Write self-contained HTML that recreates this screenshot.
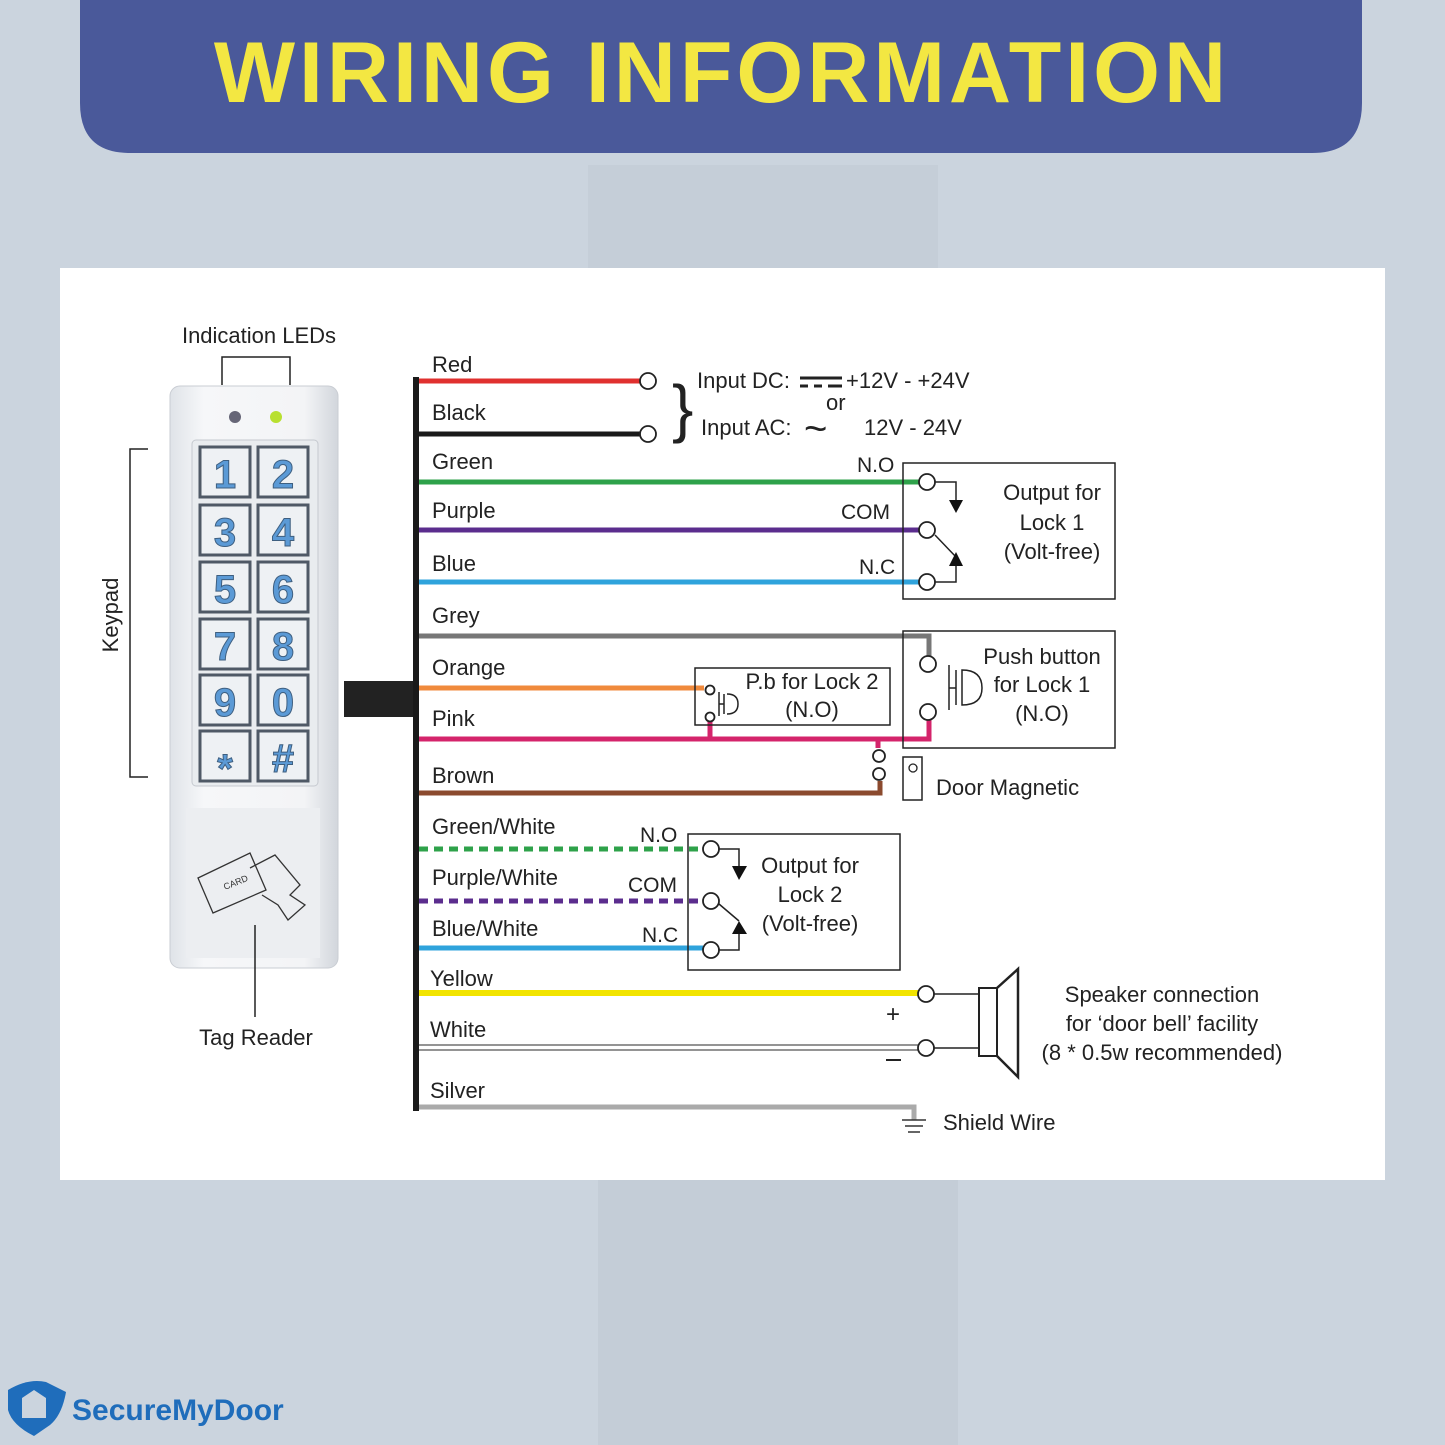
<!DOCTYPE html>
<html><head><meta charset="utf-8"><style>
html,body{margin:0;padding:0;width:1445px;height:1445px;overflow:hidden;background:#cbd4de;}
svg{display:block;font-family:"Liberation Sans","DejaVu Sans",sans-serif;}
</style></head><body>
<svg width="1445" height="1445" viewBox="0 0 1445 1445" xmlns="http://www.w3.org/2000/svg">
<defs>
<linearGradient id="bd" x1="0" x2="1"><stop offset="0" stop-color="#dfe3e8"/><stop offset="0.2" stop-color="#f6f7f9"/><stop offset="0.8" stop-color="#f3f4f6"/><stop offset="1" stop-color="#d2d6dc"/></linearGradient>
</defs>
<rect width="1445" height="1445" fill="#cbd4de"/>
<rect x="588" y="165" width="350" height="110" fill="#c5ced8"/>
<rect x="598" y="1180" width="360" height="265" fill="#c4cdd7"/>
<path d="M80 0 H1362 V103 Q1362 153 1312 153 H130 Q80 153 80 103 Z" fill="#4a599a"/>
<text x="722" y="102" text-anchor="middle" font-size="86" font-weight="bold" fill="#f3e742" letter-spacing="4">WIRING INFORMATION</text>
<rect x="60" y="268" width="1325" height="912" fill="#fff"/>

<!-- device -->
<text x="259" y="343" text-anchor="middle" font-size="22" fill="#222">Indication LEDs</text>
<path d="M222 385 V357 H290 V385" fill="none" stroke="#222" stroke-width="1.5"/>
<path d="M148 449 H130 V777 H148" fill="none" stroke="#222" stroke-width="1.5"/>
<text transform="translate(118,615) rotate(-90)" text-anchor="middle" font-size="22" fill="#222">Keypad</text>
<rect x="170" y="386" width="168" height="582" rx="10" fill="url(#bd)" stroke="#c9cdd3"/>
<circle cx="235" cy="417" r="6" fill="#667"/>
<circle cx="276" cy="417" r="6" fill="#b8e030"/>
<rect x="192" y="440" width="126" height="346" rx="4" fill="#e9ecef" stroke="#c5c9cf"/>
<g fill="#eef1f4" stroke="#4f5966" stroke-width="3">
<rect x="200" y="447" width="50" height="50"/><rect x="258" y="447" width="50" height="50"/>
<rect x="200" y="505" width="50" height="50"/><rect x="258" y="505" width="50" height="50"/>
<rect x="200" y="562" width="50" height="50"/><rect x="258" y="562" width="50" height="50"/>
<rect x="200" y="619" width="50" height="50"/><rect x="258" y="619" width="50" height="50"/>
<rect x="200" y="675" width="50" height="50"/><rect x="258" y="675" width="50" height="50"/>
<rect x="200" y="731" width="50" height="50"/><rect x="258" y="731" width="50" height="50"/>
</g>
<g fill="#5b9ad6" font-size="40" font-weight="bold" text-anchor="middle" stroke="#3e5f80" stroke-width="1">
<text x="225" y="488">1</text><text x="283" y="488">2</text>
<text x="225" y="546">3</text><text x="283" y="546">4</text>
<text x="225" y="603">5</text><text x="283" y="603">6</text>
<text x="225" y="660">7</text><text x="283" y="660">8</text>
<text x="225" y="716">9</text><text x="283" y="716">0</text>
<text x="225" y="782">*</text><text x="283" y="772">#</text>
</g>
<rect x="186" y="808" width="134" height="150" fill="#eceef1"/>
<g fill="none" stroke="#333" stroke-width="1.3">
<path d="M198 878 L250 853 L266 890 L213 913 Z"/>
<path d="M250 868 L275 855 L300 885 L290 895 L305 905 L288 920 L278 905 L262 895"/>
</g>
<text x="225" y="890" font-size="9" fill="#333" transform="rotate(-22 225 890)">CARD</text>
<line x1="255" y1="925" x2="255" y2="1017" stroke="#222" stroke-width="1.5"/>
<text x="256" y="1045" text-anchor="middle" font-size="22" fill="#222">Tag Reader</text>

<!-- bus -->
<rect x="344" y="681" width="72" height="36" fill="#222"/>
<rect x="413" y="377" width="6" height="734" fill="#1a1a1a"/>

<g font-size="22" fill="#222">
<text x="432" y="372">Red</text><text x="432" y="420">Black</text>
<text x="432" y="469">Green</text><text x="432" y="518">Purple</text>
<text x="432" y="571">Blue</text><text x="432" y="623">Grey</text>
<text x="432" y="675">Orange</text><text x="432" y="726">Pink</text>
<text x="432" y="783">Brown</text><text x="432" y="834">Green/White</text>
<text x="432" y="885">Purple/White</text><text x="432" y="936">Blue/White</text>
<text x="430" y="986">Yellow</text><text x="430" y="1037">White</text>
<text x="430" y="1098">Silver</text>
</g>

<g fill="none" stroke-width="5">
<line x1="419" y1="381" x2="642" y2="381" stroke="#e0302f"/>
<line x1="419" y1="434" x2="642" y2="434" stroke="#1a1a1a"/>
<line x1="419" y1="482" x2="920" y2="482" stroke="#2ea24a"/>
<line x1="419" y1="530" x2="920" y2="530" stroke="#5b2d8e"/>
<line x1="419" y1="582" x2="920" y2="582" stroke="#2fa3dc"/>
<path d="M419 636 H929 V657" stroke="#777"/>
<line x1="419" y1="688" x2="704" y2="688" stroke="#f08a3c"/>
<path d="M419 739 H929 V718 M710 739 V718 M878 739 V748" stroke="#d4246b"/>
<path d="M419 793 H880 V781" stroke="#8b4a2e"/>
<line x1="419" y1="849" x2="703" y2="849" stroke="#2ea24a" stroke-dasharray="9 6"/>
<line x1="419" y1="901" x2="703" y2="901" stroke="#5b2d8e" stroke-dasharray="9 6"/>
<line x1="419" y1="948" x2="703" y2="948" stroke="#2fa3dc"/>
<line x1="419" y1="993" x2="918" y2="993" stroke="#f2e400" stroke-width="6"/>
<path d="M419 1107 H914 V1120" stroke="#aaa"/>
</g>
<path d="M419 1045 H918 M419 1050 H918" stroke="#555" stroke-width="1.3"/>

<g fill="#fff" stroke="#222" stroke-width="1.8">
<circle cx="648" cy="381" r="8"/><circle cx="648" cy="434" r="8"/>
<circle cx="927" cy="482" r="8"/><circle cx="927" cy="530" r="8"/><circle cx="927" cy="582" r="8"/>
<circle cx="928" cy="664" r="8"/><circle cx="928" cy="712" r="8"/>
<circle cx="710" cy="690" r="4.5"/><circle cx="710" cy="717" r="4.5"/>
<circle cx="879" cy="756" r="6"/><circle cx="879" cy="774" r="6"/>
<circle cx="711" cy="849" r="8"/><circle cx="711" cy="901" r="8"/><circle cx="711" cy="950" r="8"/>
<circle cx="926" cy="994" r="8"/><circle cx="926" cy="1048" r="8"/>
</g>

<text x="672" y="430" font-size="64" fill="#222">}</text>
<g font-size="22" fill="#222">
<text x="697" y="388">Input DC:</text>
<text x="846" y="388">+12V - +24V</text>
<text x="826" y="410">or</text>
<text x="701" y="435">Input AC:</text>
<text x="864" y="435">12V -  24V</text>
</g>
<path d="M800 378 H842 M800 386 H808 M814 386 H822 M828 386 H842" stroke="#222" stroke-width="3"/>
<text x="804" y="442" font-size="40" fill="#222">~</text>

<!-- Lock1 box -->
<rect x="903" y="463" width="212" height="136" fill="none" stroke="#222" stroke-width="1.5"/>
<g font-size="21" fill="#222">
<text x="857" y="472">N.O</text><text x="841" y="519">COM</text><text x="859" y="574">N.C</text>
</g>
<path d="M935 482 H956 V500 M935 535 L956 557 M935 582 H956 V565" fill="none" stroke="#222" stroke-width="1.5"/>
<path d="M949 500 H963 L956 513 Z M949 566 H963 L956 552 Z" fill="#111"/>
<g font-size="22" fill="#222" text-anchor="middle">
<text x="1052" y="500">Output for</text><text x="1052" y="530">Lock 1</text><text x="1052" y="559">(Volt-free)</text>
</g>

<!-- Push button lock1 -->
<rect x="903" y="631" width="212" height="117" fill="none" stroke="#222" stroke-width="1.5"/>
<path d="M949 665 V710 M949 688 H956 M956 670 V705 M962 670 Q982 670 982 688 Q982 705 962 705 Z" fill="none" stroke="#222" stroke-width="1.5"/>
<g font-size="22" fill="#222" text-anchor="middle">
<text x="1042" y="664">Push button</text><text x="1042" y="692">for Lock 1</text><text x="1042" y="721">(N.O)</text>
</g>

<!-- Pb lock2 -->
<rect x="695" y="668" width="195" height="57" fill="none" stroke="#222" stroke-width="1.5"/>
<path d="M719 692 V716 M719 704 H724 M724 694 V714 M727 694 Q738 694 738 704 Q738 714 727 714" fill="none" stroke="#222" stroke-width="1.5"/>
<g font-size="22" fill="#222" text-anchor="middle">
<text x="812" y="689">P.b for Lock 2</text><text x="812" y="717">(N.O)</text>
</g>

<!-- Door magnetic -->
<rect x="903" y="757" width="19" height="43" fill="none" stroke="#222" stroke-width="1.5"/>
<circle cx="913" cy="768" r="4" fill="none" stroke="#222" stroke-width="1.3"/>
<text x="936" y="795" font-size="22" fill="#222">Door Magnetic</text>

<!-- Lock2 box -->
<rect x="688" y="834" width="212" height="136" fill="none" stroke="#222" stroke-width="1.5"/>
<g font-size="21" fill="#222">
<text x="640" y="842">N.O</text><text x="628" y="892">COM</text><text x="642" y="942">N.C</text>
</g>
<path d="M719 849 H739 V866 M719 904 L739 921 M719 950 H739 V934" fill="none" stroke="#222" stroke-width="1.5"/>
<path d="M732 866 H747 L739 880 Z M732 934 H747 L739 921 Z" fill="#111"/>
<g font-size="22" fill="#222" text-anchor="middle">
<text x="810" y="873">Output for</text><text x="810" y="902">Lock 2</text><text x="810" y="931">(Volt-free)</text>
</g>

<!-- speaker -->
<path d="M934 994 H979 M934 1048 H979" stroke="#222" stroke-width="1.5"/>
<rect x="979" y="988" width="18" height="68" fill="none" stroke="#222" stroke-width="2"/>
<path d="M997 988 L1018 969 V1077 L997 1056" fill="none" stroke="#222" stroke-width="2.5"/>
<text x="893" y="1022" font-size="24" fill="#222" text-anchor="middle">+</text>
<path d="M886 1060 H901" stroke="#222" stroke-width="2"/>
<g font-size="22" fill="#222" text-anchor="middle">
<text x="1162" y="1002">Speaker connection</text>
<text x="1162" y="1031">for ‘door bell’ facility</text>
<text x="1162" y="1060">(8 * 0.5w recommended)</text>
</g>
<path d="M902 1120 H926 M905 1126 H923 M908 1132 H920" stroke="#333" stroke-width="1.5"/>
<text x="943" y="1130" font-size="22" fill="#222">Shield Wire</text>

<!-- logo -->
<path d="M8 1390 Q28 1378 46 1382 L66 1392 Q62 1415 50 1425 L34 1436 Q12 1425 8 1410 Z" fill="#1f6dbb"/>
<path d="M22 1398 L34 1390 L46 1398 V1418 H22 Z" fill="#cbd4de"/>
<text x="72" y="1420" font-size="30" font-weight="bold" fill="#1f6dbb">SecureMyDoor</text>
</svg>
</body></html>
